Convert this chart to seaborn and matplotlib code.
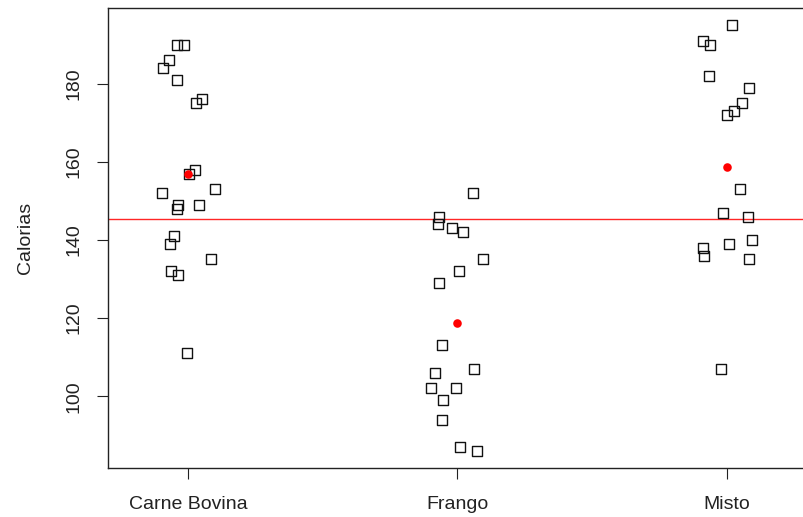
import numpy as np
import pandas as pd
import matplotlib
matplotlib.use("Agg")
import matplotlib.pyplot as plt
import seaborn as sns

# Calories per hot dog type, with the horizontal jitter applied to each point
categories = ["Carne Bovina", "Frango", "Misto"]

carne_bovina = [190, 190, 186, 184, 181, 176, 175, 158, 157, 153,
                152, 149, 148, 149, 141, 139, 135, 132, 131, 111]
carne_bovina_jitter = [-0.041, -0.015, -0.070, -0.093, -0.041, 0.052, 0.030, 0.026, 0.004, 0.100,
                       -0.096, -0.037, -0.041, 0.041, -0.052, -0.067, 0.085, -0.063, -0.037, -0.004]

frango = [152, 146, 144, 143, 142, 135, 132, 129, 113, 107,
          106, 102, 102, 99, 94, 87, 86]
frango_jitter = [0.056, -0.067, -0.074, -0.022, 0.022, 0.093, 0.007, -0.067, -0.059, 0.063,
                 -0.085, -0.100, -0.004, -0.052, -0.056, 0.011, 0.074]

misto = [195, 191, 190, 182, 179, 175, 173, 172, 153, 147,
         146, 140, 139, 138, 136, 135, 107]
misto_jitter = [0.019, -0.089, -0.063, -0.067, 0.082, 0.056, 0.026, 0.000, 0.048, -0.015,
                0.078, 0.093, 0.007, -0.089, -0.085, 0.082, -0.022]

y_ticks = [100, 120, 140, 160, 180]

groups = [(carne_bovina, carne_bovina_jitter), (frango, frango_jitter), (misto, misto_jitter)]
rows = []
for i, (name, (vals, jit)) in enumerate(zip(categories, groups)):
    for v, j in zip(vals, jit):
        rows.append({"tipo": name, "pos": i + j, "calorias": v})
df = pd.DataFrame(rows)

means = df.groupby("tipo", sort=False)["calorias"].mean().reindex(categories)
mean_df = pd.DataFrame({"pos": np.arange(len(categories)), "calorias": means.values})
overall_mean = df["calorias"].mean()

sns.set_style("white")
plt.rcParams["font.family"] = ["Liberation Sans", "DejaVu Sans"]

W, H = 804, 517
fig = plt.figure(figsize=(W / 100, H / 100), dpi=100)
# plot region: left 108 px, top 8 px, bottom 468 px; right edge runs just past the canvas
ax = fig.add_axes([108 / W, 1 - 468 / H, (807 - 108) / W, (468 - 8) / H])

sns.scatterplot(data=df, x="pos", y="calorias", ax=ax, marker="s", s=52,
                facecolor="none", edgecolor="#111111", linewidth=1.0, zorder=3, legend=False)
sns.scatterplot(data=mean_df, x="pos", y="calorias", ax=ax, marker="o", s=38,
                color="#ff0000", edgecolor="#ff0000", linewidth=0, zorder=4, legend=False)
ax.axhline(overall_mean, color="#ff0000", linewidth=1.0, alpha=0.85, zorder=2)

ax.set_xlim(-0.297, 2.297)
ax.set_ylim(81.64, 199.36)
ax.set_xticks(range(len(categories)))
ax.set_xticklabels(categories)
ax.set_yticks(y_ticks)
ax.set_yticklabels([str(t) for t in y_ticks], rotation=90, va="center")

ax.tick_params(axis="both", direction="out", length=8, width=0.8, color="#222222",
               labelsize=14, labelcolor="#222222", bottom=True, left=True)
ax.tick_params(axis="x", pad=12)
ax.tick_params(axis="y", pad=10)

for side in ["left", "bottom", "top", "right"]:
    ax.spines[side].set_visible(True)
    ax.spines[side].set_color("#222222")
    ax.spines[side].set_linewidth(1.0)

ax.set_xlabel("")
ax.set_ylabel("Calorias", fontsize=14, color="#222222", va="center")
ax.yaxis.set_label_coords(26 / W, 1 - 238 / H, transform=fig.transFigure)

fig.savefig("out.png", dpi=100)
